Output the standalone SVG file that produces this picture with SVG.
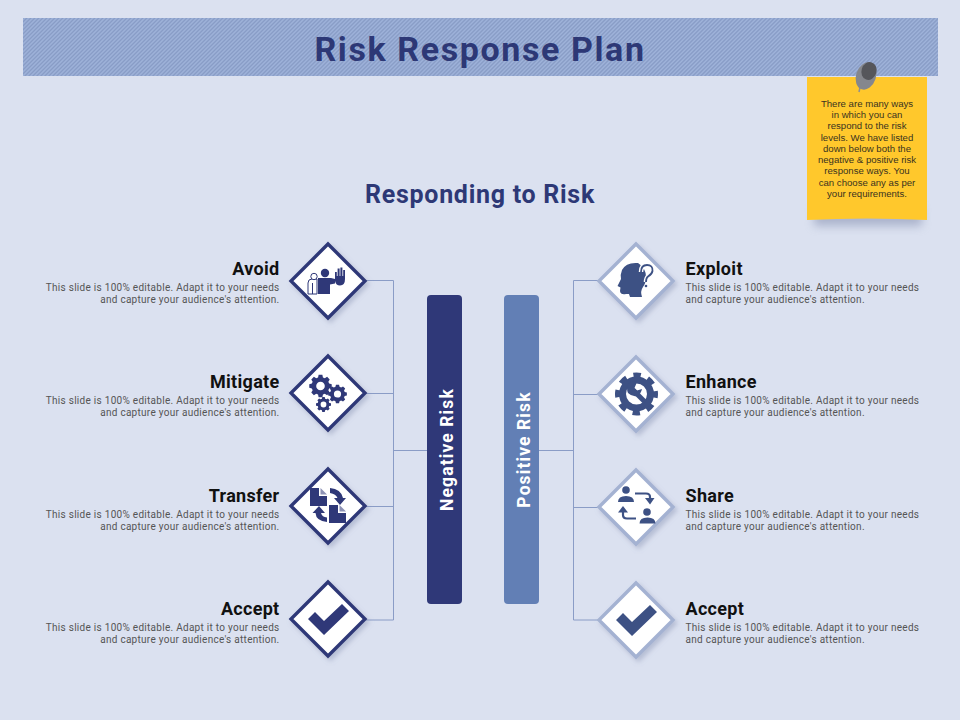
<svg xmlns="http://www.w3.org/2000/svg" width="960" height="720" viewBox="0 0 960 720">
<style>
text{font-family:"Roboto","Liberation Sans",sans-serif}
.t{font-size:18px;font-weight:700;fill:#111;letter-spacing:.3px}
.d{font-size:10px;fill:#555;letter-spacing:.28px}
.l{text-anchor:end}
.n{font-size:9.6px;fill:#3a3320;text-anchor:middle;font-family:"Liberation Sans",sans-serif}
.c{fill:none;stroke:#8a9cc6;stroke-width:1}
.dn{fill:#fff;stroke:#2f3878;stroke-width:3.4;filter:url(#s)}
.dp{fill:#fff;stroke:#a4b2d2;stroke-width:3.4;filter:url(#s)}
.i1{fill:#2f3878}
.i2{fill:#3d5184}
</style>
<defs>
<pattern id="h" width="2.828" height="2.828" patternUnits="userSpaceOnUse" patternTransform="rotate(-45)">
<rect width="2.828" height="2.828" fill="#9fb3da"/><rect width="2.828" height="1.2" fill="#8498c2"/>
</pattern>
<filter id="s" x="-20%" y="-20%" width="150%" height="150%"><feDropShadow dx="2.5" dy="3" stdDeviation="2.5" flood-color="#7b86a8" flood-opacity=".4"/></filter>
<filter id="b" x="-20%" y="-40%" width="140%" height="200%"><feGaussianBlur stdDeviation="5"/></filter>
<path id="check" d="M-20 1-13-6-4 3 14-14 21-7-4 17Z"/>
<path id="gear" d="M-2.6-13H2.6L3.4-9.4 6-8.3 9.2-10.2 12.8-6.6 10.9-3.5 12-.8 15.6 0 15.6 5 12 5.8 10.9 8.4 12.8 11.6 9.2 15.2 6 13.3 3.4 14.400 2.6 18H-2.6L-3.4 14.4-6 13.3-9.2 15.2-12.8 11.6-10.9 8.4-12 5.8-15.6 5-15.6 0-12-.8-10.9-3.5-12.8-6.6-9.2-10.2-6-8.3-3.4-9.4Z M0-3.5A6 6 0 1 0 .01 8.5 6 6 0 1 0 0-3.5Z" fill-rule="evenodd" transform="translate(0,-2.5)"/>
</defs>
<rect width="960" height="720" fill="#dbe1f0"/>
<rect x="23" y="18" width="915" height="58" fill="url(#h)"/>
<text x="480" y="61" text-anchor="middle" font-size="34" font-weight="700" fill="#2d3876" letter-spacing="1.6">Risk Response Plan</text>
<text x="480" y="203" text-anchor="middle" font-size="25" font-weight="700" fill="#2d3876" letter-spacing=".72">Responding to Risk</text>

<g id="note">
<rect x="814" y="208" width="108" height="18" fill="#7b86a8" opacity=".5" filter="url(#b)"/>
<path d="M807 77H927V220Q867 217 807 220Z" fill="#ffc82c"/>
<text class="n" y="107"><tspan x="867">There are many ways</tspan><tspan x="867" dy="11">in which you can</tspan><tspan x="867" dy="11">respond to the risk</tspan><tspan x="867" dy="11.5">levels. We have listed</tspan><tspan x="867" dy="11.5">down below both the</tspan><tspan x="867" dy="11">negative &amp; positive risk</tspan><tspan x="867" dy="11">response ways. You</tspan><tspan x="867" dy="11.5">can choose any as per</tspan><tspan x="867" dy="11.5">your requirements.</tspan></text>
<path d="M859 92 861 83" stroke="#8d8f95" stroke-width="1.5"/>
<ellipse cx="866" cy="76" rx="10" ry="14" transform="rotate(18 866 76)" fill="#85878d"/>
<ellipse cx="869" cy="71" rx="7.5" ry="9" transform="rotate(18 869 71)" fill="#55565b"/>
</g>

<g id="connectors" class="c">
<path d="M366 280.500H393.500V620H366M366 393.500H393.500M366 506.500H393.500M393.500 450.500H427"/>
<path d="M598 280.500H573.500V620H598M598 394.500H573.500M598 507.500H573.500M573.500 450.500H539"/>
</g>

<g id="bar-negative"><rect x="427" y="295" width="35" height="309" rx="4" fill="#2f3878"/><text transform="translate(453,449.500) rotate(-90)" text-anchor="middle" font-size="17.500" font-weight="700" fill="#fff" letter-spacing="1.1">Negative Risk</text></g>
<g id="bar-positive"><rect x="504" y="295" width="35" height="309" rx="4" fill="#627fb5"/><text transform="translate(530,449.500) rotate(-90)" text-anchor="middle" font-size="17.500" font-weight="700" fill="#fff" letter-spacing="1.1">Positive Risk</text></g>

<g id="avoid">
<text class="t l" x="279.500" y="275">Avoid</text>
<text class="d l" y="291"><tspan x="279.500">This slide is 100% editable. Adapt it to your needs</tspan><tspan x="279.500" dy="12">and capture your audience's attention.</tspan></text>
<path class="dn" d="M328 244 365 281 328 318 291 281Z"/>
<g class="i1"><circle cx="325" cy="273" r="4.200"/><path d="M318 278H331L335 279V283.500L330 284.500V294H318Z"/><path d="M335 277V272H336.800V276H337.600V268.500H339.600V276H340.400V267.500H342.400V276H343.200V270H345V279Q345 285.500 340 285.500 336 285.500 335 281Z"/></g>
<path d="M308 294V283Q308 279 312 279H317V294ZM312.500 294V283" fill="#fff" stroke="#2f3878" stroke-width="1"/>
<circle cx="314" cy="276.500" r="3.200" fill="#fff" stroke="#2f3878" stroke-width="1"/>
</g>
<g id="mitigate">
<text class="t l" x="279.500" y="388">Mitigate</text>
<text class="d l" y="404"><tspan x="279.500">This slide is 100% editable. Adapt it to your needs</tspan><tspan x="279.500" dy="12">and capture your audience's attention.</tspan></text>
<path class="dn" d="M328 356 365 393 328 430 291 393Z"/>
<g class="i1"><use href="#gear" transform="translate(320.500,386) scale(.72)"/><use href="#gear" transform="translate(337.500,394) scale(.6)"/><use href="#gear" transform="translate(323.500,404.500) scale(.48)"/></g>
</g>
<g id="transfer">
<text class="t l" x="279.500" y="502">Transfer</text>
<text class="d l" y="518"><tspan x="279.500">This slide is 100% editable. Adapt it to your needs</tspan><tspan x="279.500" dy="12">and capture your audience's attention.</tspan></text>
<path class="dn" d="M328 469 365 506 328 543 291 506Z"/>
<g class="i1"><path d="M310 488H319V496H327V506H310Z"/><path d="M320.500 488 327 494.500H320.500Z" opacity=".55"/><path d="M329 505H338V513H346V523H329Z"/><path d="M339.500 505 346 511.500H339.500Z" opacity=".55"/><path d="M330 488Q341 489 343 498H346L340 505 334 498H337.500Q336 494 330 493Z"/><path d="M327 522Q316 521 315.500 513H312.500L319 506 325 513H321Q322 517 327 517.500Z"/></g>
</g>
<g id="accept-left">
<text class="t l" x="279.500" y="615">Accept</text>
<text class="d l" y="631"><tspan x="279.500">This slide is 100% editable. Adapt it to your needs</tspan><tspan x="279.500" dy="12">and capture your audience's attention.</tspan></text>
<path class="dn" d="M328 582 365 619 328 656 291 619Z"/>
<use href="#check" class="i1" transform="translate(328,618)"/>
</g>

<g id="exploit">
<text class="t" x="685.500" y="275">Exploit</text>
<text class="d" y="291"><tspan x="685.500">This slide is 100% editable. Adapt it to your needs</tspan><tspan x="685.500" dy="12">and capture your audience's attention.</tspan></text>
<path class="dp" d="M636 244 673 281 636 318 599 281Z"/>
<path class="i2" d="M638 263Q626 262 622 270 620 275 621 279L617.500 286 620.500 287.500 620 291Q620.500 295 626 294L629 294 630 297H642Q640 291 643 287 646 283 646 277 646 268 638 263Z"/>
<path d="M641 272Q641 265 647 265 653 265 652.500 271 652 274 648 276.500 646 278 646 282" fill="none" stroke="#fff" stroke-width="4.500"/>
<path d="M641 272Q641 265 647 265 653 265 652.500 271 652 274 648 276.500 646 278 646 282" fill="none" stroke="#3d5184" stroke-width="1.800"/>
<circle cx="646" cy="286" r="1.300" fill="#3d5184"/>
</g>
<g id="enhance">
<text class="t" x="685.500" y="388">Enhance</text>
<text class="d" y="404"><tspan x="685.500">This slide is 100% editable. Adapt it to your needs</tspan><tspan x="685.500" dy="12">and capture your audience's attention.</tspan></text>
<path class="dp" d="M636 357 673 394 636 431 599 394Z"/>
<circle cx="636.500" cy="394" r="19" fill="none" stroke="#3d5184" stroke-width="5" stroke-dasharray="7.500 7.420" stroke-dashoffset="3.700"/>
<circle cx="636.500" cy="394" r="14" fill="none" stroke="#3d5184" stroke-width="7"/>
<path d="M633 390 645 402" stroke="#3d5184" stroke-width="5" fill="none"/>
<path fill="#3d5184" d="M637 382Q631 380 628 384 626 388 628 393 632 397 637 396 641 394 642 389L637 390.500 634.500 388Z"/>
</g>
<g id="share">
<text class="t" x="685.500" y="502">Share</text>
<text class="d" y="518"><tspan x="685.500">This slide is 100% editable. Adapt it to your needs</tspan><tspan x="685.500" dy="12">and capture your audience's attention.</tspan></text>
<path class="dp" d="M636 470 673 507 636 544 599 507Z"/>
<g class="i2"><circle cx="626" cy="490" r="3.800"/><path d="M618 502Q618 496 626 496 634 496 634 502Z"/><circle cx="647" cy="512" r="3.800"/><path d="M639.500 523.500Q639.500 517.500 647.500 517.500 655.500 517.500 655.500 523.500Z"/><path d="M645 498H654.500L650 504.500Z"/><path d="M618 512.500H628L623 506Z"/></g>
<path d="M635 493.500H646Q650 493.500 650 497V500M623 510V515Q623 518.500 627 518.500H636" fill="none" stroke="#3d5184" stroke-width="2.200"/>
</g>
<g id="accept-right">
<text class="t" x="685.500" y="615">Accept</text>
<text class="d" y="631"><tspan x="685.500">This slide is 100% editable. Adapt it to your needs</tspan><tspan x="685.500" dy="12">and capture your audience's attention.</tspan></text>
<path class="dp" d="M636 583 673 620 636 657 599 620Z"/>
<use href="#check" class="i2" transform="translate(636,619)"/>
</g>
</svg>
